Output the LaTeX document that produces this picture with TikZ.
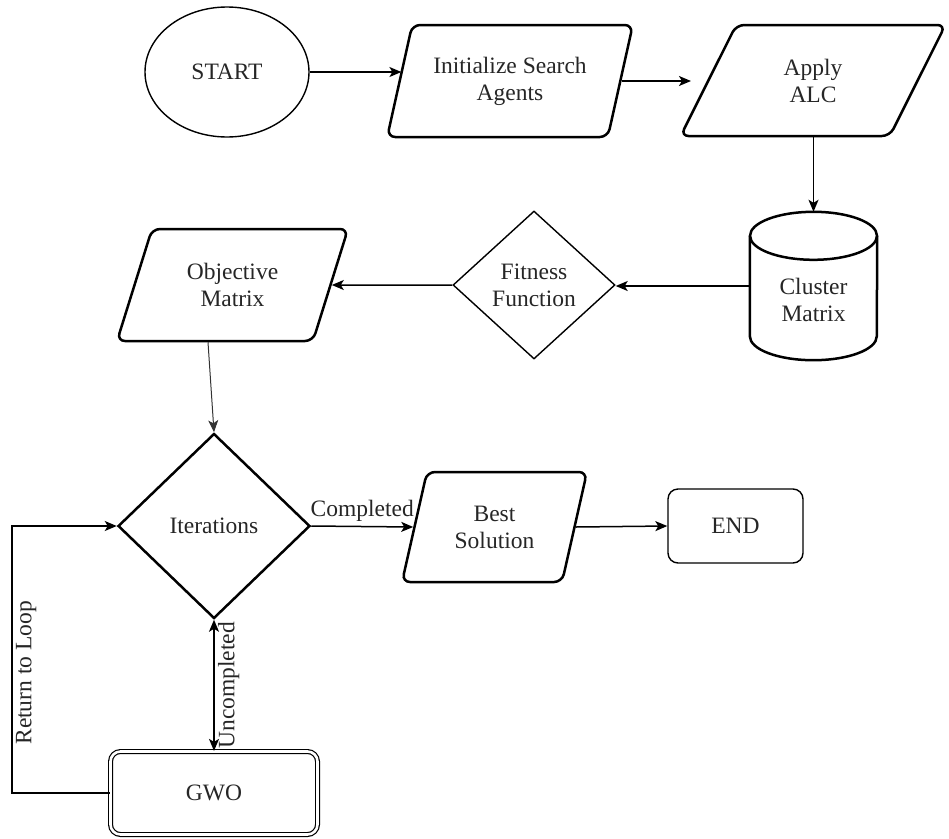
\documentclass[tikz,border=0pt]{standalone}
\usepackage{fontspec}
\setmainfont{Liberation Serif}
\usetikzlibrary{shapes.geometric,arrows.meta,calc}
\begin{document}
\begin{tikzpicture}[x=1pt,y=-1pt,
  font=\fontsize{23.5}{27}\selectfont,
  every node/.style={align=center, text=black!85},
  thk/.style={draw, line width=2.5pt},
  thn/.style={draw, line width=1.4pt},
  para/.style={thk, trapezium, trapezium stretches=true, rounded corners=8pt, inner sep=0pt},
  tipa/.tip={Stealth[length=12pt,width=10pt,inset=3pt]},
  arr/.style={line width=1.5pt, -tipa},
]
\useasboundingbox (0,0) rectangle (949,838);

% nodes
\node[thn, ellipse, minimum width=164pt, minimum height=130pt, inner sep=0pt] (start) at (227,72) {START};
\node[para, trapezium left angle=68, trapezium right angle=112, minimum width=246pt, minimum height=112pt] (init) at (510,81) {Initialize Search\\Agents};
\node[para, trapezium left angle=64, trapezium right angle=116, minimum width=265pt, minimum height=111pt] (apply) at (813,80.5) {Apply\\ALC};
\node[minimum width=127pt, minimum height=148pt, inner sep=0pt] (cluster) at (813.5,286) {};
\draw[line width=2.5pt] ($(cluster.north)+(0,24)$) ellipse [x radius=63.5pt, y radius=24pt];
\draw[line width=2.5pt] ($(cluster.north west)+(0,24)$) -- ($(cluster.south west)+(0,-24)$)
  arc[start angle=180, end angle=360, x radius=63.5pt, y radius=24pt]
  -- ($(cluster.north east)+(0,24)$);
\node (clustertxt) at (813.5,300) {Cluster\\Matrix};
\node[thn, diamond, aspect=1.1, minimum width=162pt, minimum height=148pt, inner sep=0pt] (fit) at (534,285) {Fitness\\Function};
\node[para, trapezium left angle=65.5, trapezium right angle=114.5, minimum width=231pt, minimum height=112pt] (obj) at (232.5,285) {Objective\\Matrix};
\node[thk, diamond, aspect=1.04, minimum width=192pt, minimum height=185pt, inner sep=0pt] (iter) at (214,526) {Iterations};
\node[para, trapezium left angle=71, trapezium right angle=109, minimum width=185pt, minimum height=110pt] (best) at (494.5,527) {Best\\Solution};
\node[thn, rounded corners=10pt, minimum width=135pt, minimum height=74pt] (end) at (735.5,526) {END};
\node[draw, line width=1.2pt, double, double distance=2.6pt, rounded corners=10pt, minimum width=207pt, minimum height=83pt] (gwo) at (214,793) {\raisebox{-5pt}{GWO}};

% connectors
\draw[arr] (start.east) -- ($(start.east -| init.west)+(3,0)$);
\draw[arr] (init.east) -- ($(init.east -| apply.west)+(-16,0)$);
\draw[arr] (apply.south -| cluster.north) -- (cluster.north);
\draw[arr] (cluster.west) -- (cluster.west -| fit.east);
\draw[arr] (fit.west) -- (obj.east);
\draw[line width=1pt, draw=black!80, -tipa] ($(obj.south)+(-24.5,0)$) -- (iter.north);
\draw[arr] (iter.east) -- (best.west) node[midway, above=1pt] {Completed};
\draw[arr] (best.east) -- (end.west);
\draw[line width=1.5pt, tipa-tipa] (iter.south) -- (gwo.north)
  node[midway, rotate=90, anchor=north] {Uncompleted};
\draw[arr] (gwo.west) -- ++(-98,0) coordinate (lb) -- (lb |- iter.west)
  node[pos=0.45, rotate=90, anchor=north] {Return to Loop} -- (iter.west);
\end{tikzpicture}
\end{document}
